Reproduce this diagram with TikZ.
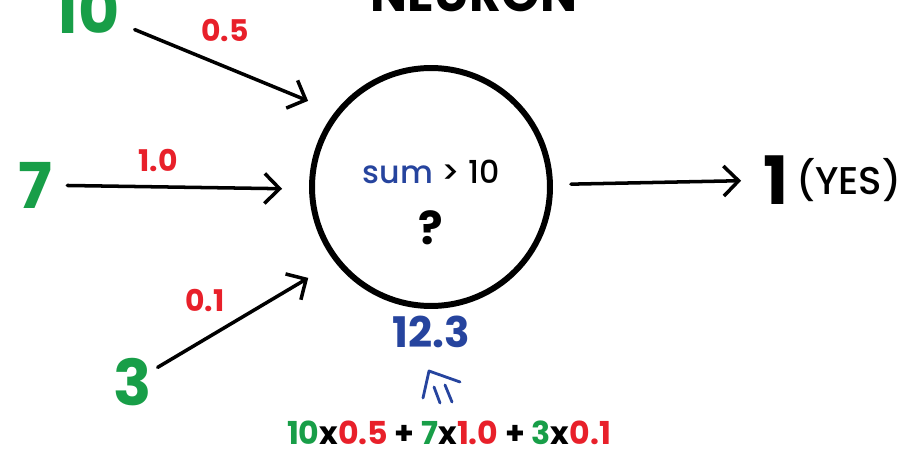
\documentclass[tikz,border=0pt]{standalone}
\usepackage{fontspec}
\setmainfont{Poppins}
\newfontfamily\medfont{Poppins Medium}
\usetikzlibrary{arrows.meta, positioning}
\definecolor{ingreen}{RGB}{24,158,72}
\definecolor{wred}{RGB}{232,32,42}
\definecolor{sumblue}{RGB}{38,68,158}
\tikzset{
    inval/.style={text=ingreen, font=\fontsize{36}{36}\selectfont\bfseries, inner sep=0pt},
    wlabel/.style={text=wred, font=\fontsize{17}{17}\selectfont\bfseries, inner sep=0pt},
    sigarrow/.style={-{Straight Barb[length=3mm, width=6mm, line width=2pt]}, line width=2pt, line cap=round},
    neuronbody/.style={circle, draw, line width=3.4pt, minimum size=4.76cm, inner sep=0pt},
    bodytext/.style={font=\fontsize{#1}{#1}\selectfont\bfseries, inner sep=0pt},
    outval/.style={font=\fontsize{38}{38}\selectfont\bfseries, inner sep=0pt}
}

\begin{document}
\begin{tikzpicture}[x=0.02cm, y=0.02cm]
\useasboundingbox (0,0) rectangle (909,453);

% title, cut at the top edge
\node[bodytext=28] (title) at (474,459) {NEURON};

\node[neuronbody] (neuron) at (431,266) {};
\node[inner sep=0pt, font=\fontsize{18}{18}\selectfont\medfont] (rule) at (431,281) {\textcolor{sumblue}{sum} > 10};
\node[bodytext=26] (ask) at (431,225) {?};
\node[bodytext=24, text=sumblue, below=0.13cm of neuron] (total) {12.3};

% inputs and weights
\node[inval] (in10) at (87,443) {10};
\node[inval] (in7) at (35,268) {7};
\node[inval] (in3) at (133,71) {3};
\node[wlabel] (w05) at (225,423) {0.5};
\node[wlabel] (w10) at (158,293) {1.0};
\node[wlabel] (w01) at (205,153) {0.1};

\draw[sigarrow, shorten <=0.32cm, shorten >=0.58cm] (in10) -- (neuron.142);
\draw[sigarrow, shorten <=0.3cm, shorten >=0.54cm] (in7) -- (neuron.181);
\draw[sigarrow, shorten <=0.12cm, shorten >=0.62cm] (in3) -- (neuron.218);

% output
\node[outval] (out1) at (776,273) {1};
\node[inner sep=0pt, font=\fontsize{22}{22}\selectfont\medfont, right=0.14cm of out1] (yes) {(YES)};
\draw[sigarrow, shorten <=0.36cm, shorten >=0.44cm] (neuron) -- (out1);

% hand-drawn mark under the sum
\draw[sumblue, line width=1.6pt, line cap=round, line join=round] (423,55) -- (429,82) -- (460,71);
\draw[sumblue, line width=1.6pt, line cap=round] (434,66) -- (440,50);
\draw[sumblue, line width=1.6pt, line cap=round] (445,68) -- (452,51);

\node[bodytext=18] (formula) at (449,20) {\textcolor{ingreen}{10}x\textcolor{wred}{0.5} + \textcolor{ingreen}{7}x\textcolor{wred}{1.0} + \textcolor{ingreen}{3}x\textcolor{wred}{0.1}};
\end{tikzpicture}
\end{document}
